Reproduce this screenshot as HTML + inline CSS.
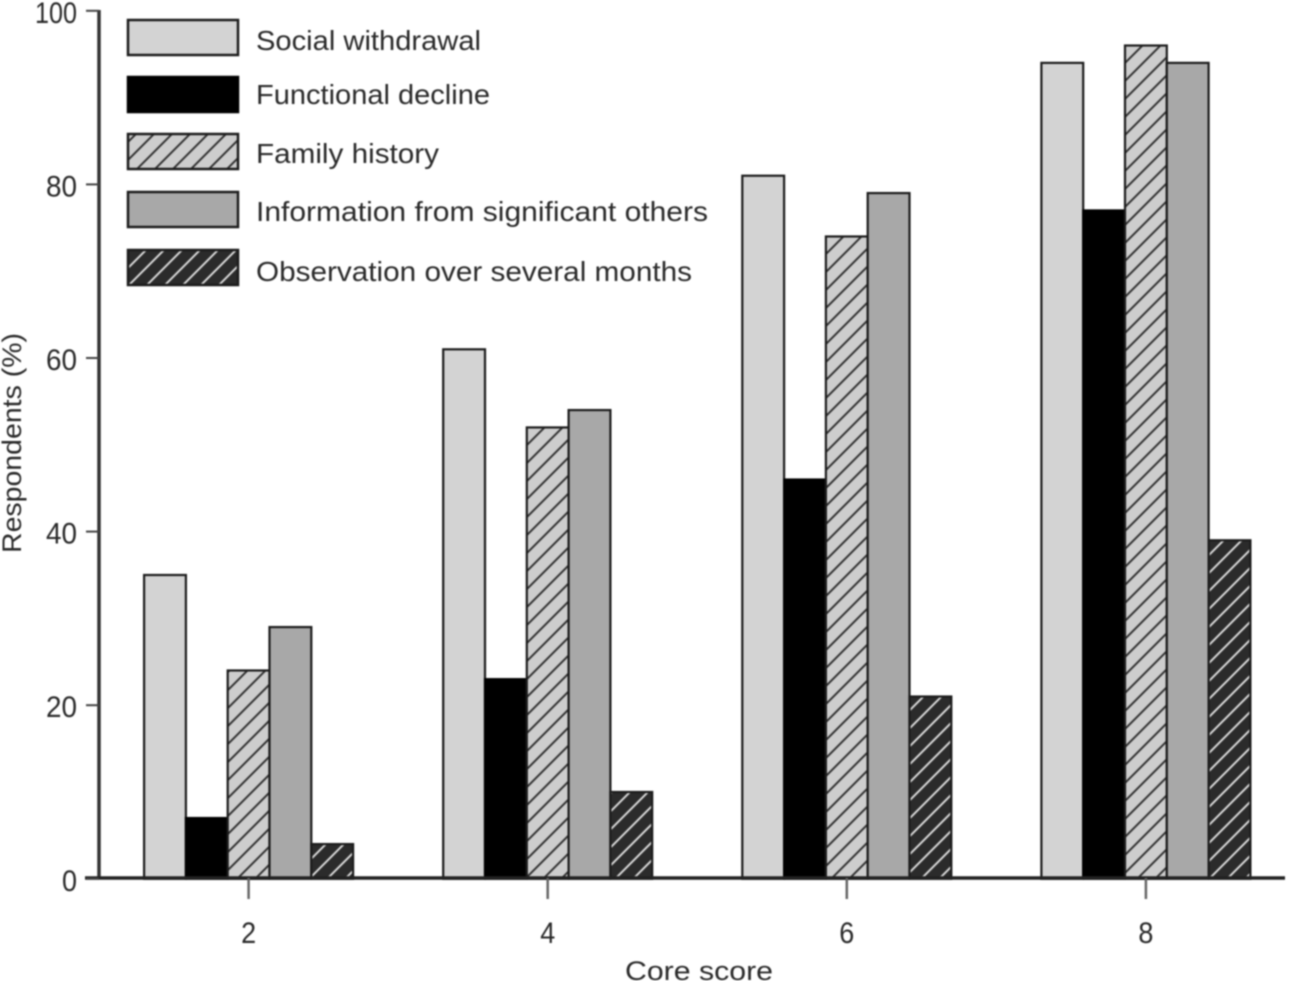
<!DOCTYPE html>
<html>
<head>
<meta charset="utf-8">
<style>
html,body{margin:0;padding:0;background:#fff;width:1290px;height:981px;overflow:hidden}
svg{display:block;filter:blur(0.7px)}
text{font-family:"Liberation Sans",sans-serif;fill:#2a2a2a}
</style>
</head>
<body>
<svg id="chart" xmlns="http://www.w3.org/2000/svg" width="1290" height="981" viewBox="0 0 1290 981">
<defs>
<pattern id="hatch-light" patternUnits="userSpaceOnUse" width="18" height="18">
<rect width="18" height="18" fill="#cdcdcd"/>
<path d="M-4.5 4.5L4.5 -4.5M0 18L18 0M13.5 22.5L22.5 13.5" stroke="#333" stroke-width="2"/>
</pattern>
<pattern id="hatch-dark" patternUnits="userSpaceOnUse" width="18" height="18">
<rect width="18" height="18" fill="#2b2b2b"/>
<path d="M-4.5 4.5L4.5 -4.5M0 18L18 0M13.5 22.5L22.5 13.5" stroke="#d8d8d8" stroke-width="2"/>
</pattern>
</defs>
<g id="bars"></g>
<g id="axes"></g>
<g id="legend"></g>
</svg>
<script>
const categories = ['2', '4', '6', '8'];
const seriesNames = ['Social withdrawal', 'Functional decline', 'Family history', 'Information from significant others', 'Observation over several months'];
const socialWithdrawal = [35, 61, 81, 94];
const functionalDecline = [7, 23, 46, 77];
const familyHistory = [24, 52, 74, 96];
const significantOthers = [29, 54, 79, 94];
const observationMonths = [4, 10, 21, 39];
const yTicks = [0, 20, 40, 60, 80, 100];

const seriesValues = [socialWithdrawal, functionalDecline, familyHistory, significantOthers, observationMonths];
const seriesSlugs = ['social-withdrawal', 'functional-decline', 'family-history', 'significant-others', 'observation-months'];
const seriesFills = ['#d3d3d3', '#000', 'url(#hatch-light)', '#a8a8a8', 'url(#hatch-dark)'];
const legendTops = [20, 77, 134, 192, 250];
const legendTextY = [50, 104, 163, 221, 281];
const legendTextW = [225, 234, 183, 452, 436];

const NS = 'http://www.w3.org/2000/svg';
function node(parent, tag, attrs, text) {
  const el = document.createElementNS(NS, tag);
  for (const k in attrs) el.setAttribute(k, attrs[k]);
  if (text !== undefined) el.textContent = text;
  parent.appendChild(el);
  return el;
}
const baseY = 878.8;
function yScale(v) { return baseY - v * 8.68; }
function xCenter(i) { return 248.6 + i * 299.1; }
const barW = 41.8;
function xBar(i, s) { return xCenter(i) - barW * 2.5 + s * barW; }

const barsG = document.getElementById('bars');
seriesValues.forEach(function (vals, s) {
  vals.forEach(function (v, i) {
    const r = node(barsG, 'rect', {
      x: xBar(i, s), y: yScale(v), width: barW, height: baseY - yScale(v),
      fill: seriesFills[s], stroke: s === 1 ? '#000' : '#1c1c1c', 'stroke-width': 2.2
    });
    
    
  });
});

const axesG = document.getElementById('axes');
const yAxis = node(axesG, 'line', { x1: 99, y1: 10, x2: 99, y2: 878, stroke: '#333', 'stroke-width': 3.5 });


const xAxis = node(axesG, 'line', { x1: 85, y1: 878, x2: 1285, y2: 878, stroke: '#222', 'stroke-width': 3.5 });



yTicks.forEach(function (t) {
  const tick = node(axesG, 'line', { x1: 86, y1: yScale(t), x2: 99, y2: yScale(t), stroke: '#444', 'stroke-width': 2 });
  
  
  const label = String(t);
  const lab = node(axesG, 'text', {
    x: 77, y: yScale(t) + 12, 'text-anchor': 'end', 'font-size': 30,
    textLength: label.length === 3 ? 42 : label.length === 2 ? 31 : 15,
    lengthAdjust: 'spacingAndGlyphs'
  }, label);
  
  
});
categories.forEach(function (c, i) {
  const tick = node(axesG, 'line', { x1: xCenter(i), y1: 878, x2: xCenter(i), y2: 899, stroke: '#666', 'stroke-width': 2.5 });
  
  
  const lab = node(axesG, 'text', {
    x: xCenter(i), y: 943, 'text-anchor': 'middle', 'font-size': 30,
    textLength: 15, lengthAdjust: 'spacingAndGlyphs'
  }, c);
  
  
});

const xTitle = node(axesG, 'text', { x: 625, y: 980, 'font-size': 27, textLength: 148, lengthAdjust: 'spacingAndGlyphs' }, 'Core score');


const yTitle = node(axesG, 'text', { transform: 'translate(21,553) rotate(-90)', 'font-size': 27, textLength: 220, lengthAdjust: 'spacingAndGlyphs' }, 'Respondents (%)');



const legendG = document.getElementById('legend');
seriesNames.forEach(function (name, s) {
  const sw = node(legendG, 'rect', {
    x: 128, y: legendTops[s], width: 110, height: 35,
    fill: seriesFills[s], stroke: s === 1 ? '#000' : '#1c1c1c', 'stroke-width': 2.5
  });
  
  
  const lab = node(legendG, 'text', {
    x: 256, y: legendTextY[s], 'font-size': 28,
    textLength: legendTextW[s], lengthAdjust: 'spacingAndGlyphs'
  }, name);
  
  
});
</script>
</body>
</html>
